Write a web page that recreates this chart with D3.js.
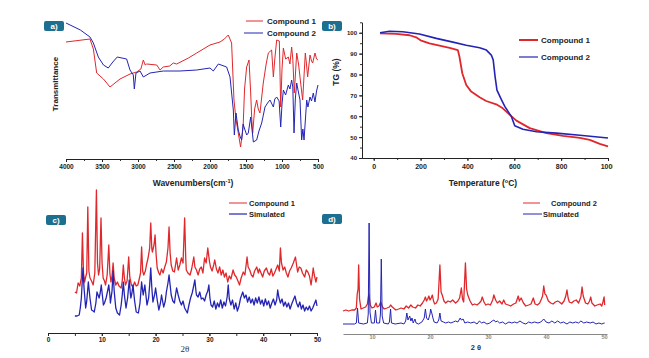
<!DOCTYPE html>
<html>
<head>
<meta charset="utf-8">
<script src="https://cdn.jsdelivr.net/npm/d3@7"></script>
<style>
  body { margin: 0; background: #fff; }
  svg { display: block; font-family: 'Liberation Sans', Arial, sans-serif; }
</style>
</head>
<body>
<div id="chart"></div>
<script>
// ---- a) FTIR, [wavenumber, transmittance (a.u.)]
const irCompound1 = [[4000,117],[3667,120],[3620,110],[3574,86],[3480,80],[3389,72],[3250,80],[3111,85],[3018,87],[2960,90],[2926,99],[2900,94],[2880,95],[2740,94],[2694,89],[2650,92],[2560,93],[2510,96],[2463,95],[2300,101],[2185,106],[2000,114],[1861,117],[1800,120],[1746,124],[1700,116],[1667,59],[1640,40],[1607,26],[1575,12],[1540,32],[1520,70],[1491,92],[1458,99],[1435,66],[1420,40],[1407,26],[1380,50],[1352,59],[1330,50],[1306,46],[1260,76],[1220,95],[1190,106],[1144,109],[1120,82],[1100,100],[1074,119],[1037,118],[1018,52],[1000,90],[981,111],[950,100],[912,102],[890,95],[866,112],[850,100],[829,66],[796,106],[770,95],[741,76],[713,59],[676,106],[660,95],[644,82],[611,104],[590,98],[574,96],[542,106],[520,100],[500,99]];
const irCompound2 = [[4000,136],[3800,129],[3667,122],[3620,116],[3551,102],[3480,94],[3413,91],[3350,97],[3288,102],[3158,100],[3111,89],[3065,84],[3051,70],[3028,86],[2972,88],[2926,82],[2833,86],[2648,88],[2417,88],[2185,89],[2000,91],[1954,88],[1884,95],[1769,92],[1722,82],[1676,49],[1662,24],[1639,46],[1607,29],[1580,22],[1560,19],[1540,35],[1514,29],[1490,24],[1468,26],[1435,42],[1398,17],[1352,19],[1320,28],[1282,36],[1236,52],[1200,56],[1167,59],[1120,52],[1100,60],[1074,62],[1040,58],[1018,32],[1000,55],[981,69],[950,64],[912,74],[890,70],[866,79],[850,72],[833,26],[815,60],[796,76],[775,68],[750,59],[727,19],[710,30],[694,19],[657,59],[640,52],[611,62],[590,58],[565,66],[542,57],[520,68],[500,74]];
const irTicks = [4000, 3500, 3000, 2500, 2000, 1500, 1000, 500];

// ---- b) TGA, [temperature °C, mass %]
const tgCompound1 = [[27,99.7],[96,99.5],[153,98.8],[181,97.8],[203,96.2],[238,94.9],[281,93.8],[324,92.8],[359,91.7],[366,88.5],[378,80.6],[395,75],[416,71.8],[452,69.1],[480,67.3],[523,65.7],[551,63.8],[580,60.8],[609,57.9],[666,54.3],[737,51.9],[808,50.6],[880,49.6],[922,48.7],[965,46.8],[1000,45.6]];
const tgCompound2 = [[27,100],[67,100.7],[124,100.5],[195,99.4],[267,97.3],[338,95.5],[395,94],[452,92.8],[481,91.7],[502,89.3],[510,87],[518,79],[526,72.5],[545,68],[560,64.6],[588,59.8],[602,55.4],[637,53.8],[695,52.6],[780,51.9],[880,50.9],[1000,49.6]];
const tgXTicks = [0, 200, 400, 600, 800, 1000];
const tgYTicks = [40, 50, 60, 70, 80, 90, 100];

// ---- c) PXRD compound 1, [2θ, intensity (a.u.)]
const xrdCompound1 = [[5.0,41],[5.3,40],[5.6,50],[5.9,47],[6.2,55],[6.4,100],[6.6,60],[6.8,51],[7.0,56],[7.2,60],[7.4,126],[7.6,62],[7.8,55],[8.1,52],[8.4,48],[8.7,60],[9.0,143],[9.2,70],[9.4,58],[9.6,64],[9.85,115],[10.05,70],[10.25,55],[10.5,52],[10.7,48],[11.0,58],[11.3,88],[11.5,60],[11.7,51],[11.9,57],[12.1,70],[12.3,55],[12.6,48],[12.9,51],[13.2,47],[13.6,45],[13.8,52],[14.0,68],[14.2,55],[14.4,48],[14.7,52],[15.0,76],[15.2,56],[15.5,48],[15.8,46],[16.1,51],[16.4,47],[16.7,48],[17.0,55],[17.2,60],[17.4,86],[17.6,62],[17.8,58],[18.1,62],[18.3,68],[18.6,75],[18.9,85],[19.1,110],[19.3,84],[19.4,81],[19.7,88],[19.9,98],[20.1,78],[20.3,65],[20.6,60],[20.8,58],[21.1,64],[21.4,60],[21.7,66],[22.0,71],[22.3,85],[22.5,106],[22.7,80],[22.9,68],[23.2,62],[23.5,61],[23.7,68],[23.9,75],[24.2,63],[24.5,68],[24.8,75],[25.1,70],[25.4,115],[25.6,75],[25.7,63],[26.0,60],[26.4,58],[26.7,64],[27.1,76],[27.3,66],[27.6,63],[27.9,58],[28.2,64],[28.5,66],[28.8,60],[29.1,75],[29.4,70],[29.7,85],[30.0,72],[30.2,66],[30.5,62],[30.8,68],[31.0,73],[31.3,64],[31.6,60],[31.9,66],[32.2,58],[32.5,63],[32.8,56],[33.1,60],[33.4,51],[33.7,57],[34.0,54],[34.4,63],[34.7,58],[35.0,56],[35.3,52],[35.6,48],[35.9,55],[36.3,61],[36.6,58],[37.0,76],[37.2,66],[37.5,63],[37.8,58],[38.1,56],[38.4,62],[38.8,66],[39.1,60],[39.3,64],[39.6,60],[39.9,56],[40.2,62],[40.6,65],[40.9,60],[41.2,58],[41.5,64],[41.8,57],[42.1,60],[42.4,64],[42.7,68],[43.0,62],[43.2,85],[43.4,70],[43.7,63],[44.0,66],[44.3,60],[44.6,56],[44.9,62],[45.2,65],[45.6,70],[46.0,76],[46.2,68],[46.4,61],[46.7,66],[47.0,65],[47.3,60],[47.7,56],[48.0,63],[48.3,61],[48.6,57],[48.9,48],[49.1,56],[49.3,65],[49.5,58],[49.8,51],[50.0,56]];
const xrdSimulated1 = [[5.0,17],[5.4,17],[5.8,18],[6.0,25],[6.2,35],[6.5,65],[6.7,45],[7.0,25],[7.2,32],[7.5,51],[7.8,35],[8.1,23],[8.4,22],[8.6,21],[8.9,30],[9.1,41],[9.3,38],[9.5,35],[9.7,40],[9.9,48],[10.1,38],[10.3,28],[10.5,30],[10.8,35],[11.0,40],[11.3,48],[11.5,38],[11.6,30],[11.9,42],[12.1,62],[12.3,42],[12.6,25],[12.9,20],[13.3,18],[13.6,28],[13.8,38],[14.0,51],[14.2,38],[14.5,25],[14.8,35],[15.1,53],[15.3,40],[15.4,35],[15.6,40],[15.8,48],[16.1,32],[16.4,21],[16.8,20],[17.1,30],[17.4,51],[17.6,42],[17.7,38],[18.0,48],[18.2,38],[18.4,28],[18.7,35],[18.9,48],[19.1,65],[19.3,45],[19.5,31],[19.8,38],[20.0,45],[20.3,33],[20.6,23],[20.9,30],[21.1,38],[21.3,32],[21.5,26],[21.8,32],[22.0,41],[22.3,50],[22.5,58],[22.7,48],[22.9,38],[23.2,32],[23.5,30],[23.7,38],[23.9,45],[24.2,38],[24.5,32],[24.8,28],[25.1,32],[25.4,25],[25.7,22],[25.9,20],[26.2,28],[26.5,35],[26.8,40],[27.0,45],[27.3,53],[27.5,42],[27.6,38],[27.9,36],[28.2,41],[28.5,34],[28.8,35],[29.1,32],[29.4,38],[29.7,42],[29.9,48],[30.1,35],[30.3,28],[30.6,26],[30.9,32],[31.2,24],[31.5,30],[31.8,26],[32.1,33],[32.4,25],[32.7,31],[33.0,27],[33.3,36],[33.5,48],[33.7,34],[34.0,28],[34.3,33],[34.6,24],[34.9,30],[35.2,22],[35.5,27],[35.8,35],[36.0,38],[36.2,41],[36.5,35],[36.8,38],[37.1,31],[37.4,36],[37.7,30],[38.0,34],[38.3,28],[38.6,35],[38.9,30],[39.2,36],[39.5,29],[39.8,33],[40.1,27],[40.4,34],[40.7,28],[41.0,32],[41.3,25],[41.6,30],[41.9,34],[42.2,28],[42.5,33],[42.7,43],[42.9,36],[43.2,30],[43.5,34],[43.8,27],[44.1,31],[44.4,26],[44.7,30],[45.0,24],[45.3,29],[45.6,33],[45.9,37],[46.2,30],[46.5,26],[46.8,31],[47.1,24],[47.4,28],[47.7,22],[48.0,26],[48.3,23],[48.6,27],[48.9,22],[49.2,25],[49.5,29],[49.8,33],[50.0,27]];
const xrdCTicks = [0, 10, 20, 30, 40, 50];

// ---- d) PXRD compound 2
const xrdCompound2 = [[5.0,23],[5.5,24],[6.0,23],[6.5,24],[7.0,24],[7.3,26],[7.45,40],[7.6,45],[7.7,69],[7.85,35],[8.1,25],[8.5,26],[8.9,27],[9.2,30],[9.45,40],[9.7,29],[10.0,26],[10.4,27],[10.7,31],[10.9,27],[11.2,28],[11.5,32],[11.8,27],[12.1,25],[12.6,26],[13.0,27],[13.2,29],[13.5,27],[14.1,24],[14.6,25],[15.0,26],[15.5,25],[15.9,28],[16.3,26],[16.7,29],[17.0,27],[17.5,26],[17.9,29],[18.3,28],[18.7,31],[19.0,34],[19.2,37],[19.4,33],[19.6,35],[19.8,38],[20.0,34],[20.2,36],[20.4,39],[20.6,33],[20.8,30],[21.1,31],[21.4,35],[21.7,69],[21.9,42],[22.1,39],[22.4,33],[22.7,31],[23.1,33],[23.5,32],[23.9,34],[24.4,31],[24.8,33],[25.1,36],[25.4,46],[25.6,35],[25.8,32],[26.1,71],[26.3,45],[26.5,39],[26.9,33],[27.3,29],[27.7,30],[28.1,29],[28.5,31],[28.8,33],[29.0,37],[29.3,32],[29.6,29],[30.0,30],[30.4,29],[30.8,34],[31.0,39],[31.3,34],[31.6,31],[32.0,33],[32.4,30],[32.7,34],[33.0,30],[33.5,29],[33.9,28],[34.4,30],[34.8,31],[35.2,38],[35.4,33],[35.7,36],[36.1,31],[36.5,28],[37.0,29],[37.4,30],[37.8,36],[38.1,30],[38.5,29],[38.9,31],[39.2,35],[39.4,38],[39.6,48],[39.8,40],[40.0,39],[40.4,33],[40.8,31],[41.2,30],[41.6,32],[42.0,33],[42.3,32],[42.7,30],[43.1,33],[43.4,38],[43.6,44],[43.8,36],[44.0,32],[44.4,31],[44.8,33],[45.2,34],[45.6,31],[46.0,37],[46.2,47],[46.4,38],[46.8,31],[47.2,30],[47.5,33],[47.7,37],[47.9,31],[48.4,28],[48.8,29],[49.3,30],[49.6,28],[49.8,32],[50.0,37],[50.1,29]];
const xrdSimulated2 = [[5.0,10],[6.0,10],[7.0,10],[7.3,11],[7.5,26],[7.7,11],[8.5,10],[9.2,11],[9.35,20],[9.5,111],[9.65,22],[9.9,11],[10.4,11],[10.6,24],[10.8,11],[11.3,11],[11.45,20],[11.6,75],[11.75,18],[12.0,11],[12.8,10],[13.0,12],[13.2,25],[13.35,11],[14.0,10],[15.0,11],[15.5,10],[15.8,13],[16.0,21],[16.2,14],[16.5,18],[16.7,13],[16.9,16],[17.1,11],[17.4,15],[17.6,11],[18.0,10],[18.6,12],[19.0,16],[19.2,25],[19.4,16],[19.7,14],[20.0,20],[20.1,25],[20.3,21],[20.5,16],[20.7,12],[21.2,11],[21.5,14],[21.7,21],[21.9,13],[22.3,12],[22.7,11],[23.2,12],[23.6,11],[24.0,12],[24.4,13],[24.8,12],[25.2,16],[25.4,14],[25.7,15],[26.0,11],[26.5,12],[27.0,11],[27.6,12],[28.1,10],[28.5,13],[28.9,11],[29.3,12],[29.8,10],[30.3,11],[30.7,13],[31.0,14],[31.3,12],[31.6,13],[32.0,11],[32.5,12],[33.0,10],[33.6,12],[34.1,11],[34.6,12],[35.0,11],[35.5,13],[36.0,11],[36.5,10],[37.0,12],[37.5,11],[38.0,12],[38.6,11],[39.1,12],[39.6,15],[40.0,12],[40.5,11],[41.0,13],[41.5,11],[42.0,13],[42.5,11],[43.0,12],[43.6,10],[44.1,12],[44.6,11],[45.1,12],[45.6,11],[46.0,13],[46.5,11],[47.0,12],[47.6,11],[48.1,12],[48.6,10],[49.1,11],[49.6,10],[50.0,11],[50.1,11]];
const xrdDTicks = [10, 20, 30, 40, 50];

const RED = '#e0282c', BLUE = '#2424b4', BADGE = '#1d6f90';

const svg = d3.select('#chart').append('svg')
  .attr('width', 649).attr('height', 358);
svg.append('rect').attr('width', 649).attr('height', 358).attr('fill', '#fff');

function badge(x, y, label) {
  svg.append('rect')
    .attr('x', x).attr('y', y).attr('width', 20).attr('height', 10)
    .attr('rx', 2).attr('fill', BADGE);
  svg.append('text')
    .attr('x', x + 10).attr('y', y + 7.8)
    .attr('text-anchor', 'middle')
    .attr('font-size', '8px').attr('font-weight', 'bold')
    .attr('fill', '#fff')
    .text(label);
}

function legendRow(x1, x2, tx, y, color, width, label, size) {
  svg.append('line')
    .attr('x1', x1).attr('x2', x2).attr('y1', y).attr('y2', y)
    .attr('stroke', color).attr('stroke-width', width);
  svg.append('text')
    .attr('x', tx).attr('y', y + 3)
    .attr('font-size', size).attr('font-weight', 'bold')
    .attr('fill', '#222')
    .text(label);
}

function styleAxis(g, size, color) {
  g.select('.domain').attr('stroke', color);
  g.selectAll('.tick line').attr('stroke', color);
  g.selectAll('text')
    .attr('font-family', "'Liberation Sans', Arial, sans-serif")
    .attr('font-size', size).attr('font-weight', 'bold')
    .attr('fill', color);
}

function drawLine(g, data, x, y, color, width) {
  g.append('path')
    .datum(data)
    .attr('fill', 'none')
    .attr('stroke', color)
    .attr('stroke-width', width)
    .attr('stroke-linejoin', 'round')
    .attr('d', d3.line().x(d => x(d[0])).y(d => y(d[1])));
}

// ================= a) FTIR =================
{
  const x = d3.scaleLinear().domain([4000, 500]).range([66, 318]);
  const y = d3.scaleLinear().domain([0, 140]).range([159, 19]);
  const g = svg.append('g');

  g.append('g')
    .attr('transform', 'translate(0,159)')
    .call(d3.axisBottom(x).tickValues(d3.range(4000, 499, -250)).tickSize(2).tickSizeOuter(0).tickFormat(''))
    .call(a => styleAxis(a, '6.5px', '#333'));
  g.append('g')
    .attr('transform', 'translate(0,159)')
    .call(d3.axisBottom(x).tickValues(irTicks).tickSize(3).tickPadding(2).tickSizeOuter(0).tickFormat(d3.format('d')))
    .call(a => styleAxis(a, '6.5px', '#222'));

  drawLine(g, irCompound1, x, y, RED, 1);
  drawLine(g, irCompound2, x, y, BLUE, 1);

  g.append('text')
    .attr('transform', 'translate(58,84) rotate(-90)')
    .attr('text-anchor', 'middle')
    .attr('font-size', '8px').attr('font-weight', 'bold').attr('fill', '#222')
    .text('Transmittance');
  const xl = g.append('text')
    .attr('x', 193).attr('y', 186)
    .attr('text-anchor', 'middle')
    .attr('font-size', '8.5px').attr('font-weight', 'bold').attr('fill', '#222');
  xl.append('tspan').text('Wavenumbers(cm');
  xl.append('tspan').attr('dy', -3).attr('font-size', '5.5px').text('-1');
  xl.append('tspan').attr('dy', 3).text(')');

  badge(44, 21, 'a)');
  legendRow(246, 263, 267, 21, RED, 1, 'Compound 1', '8px');
  legendRow(244, 263, 267, 33, BLUE, 1, 'Compound 2', '8px');
}

// ================= b) TGA =================
{
  svg.append('clipPath').attr('id', 'clipB')
    .append('rect').attr('x', 330).attr('y', 0).attr('width', 283).attr('height', 200);
  const x = d3.scaleLinear().domain([-50, 1000]).range([362, 608]);
  const y = d3.scaleLinear().domain([40, 105]).range([158, 22.3]);
  const g = svg.append('g').attr('clip-path', 'url(#clipB)');

  g.append('g')
    .attr('transform', 'translate(0,158)')
    .call(d3.axisBottom(x).tickValues(d3.range(0, 1001, 100)).tickSize(2).tickSizeOuter(0).tickFormat(''))
    .call(a => styleAxis(a, '7px', '#333'));
  g.append('g')
    .attr('transform', 'translate(0,158)')
    .call(d3.axisBottom(x).tickValues(tgXTicks).tickSize(3).tickPadding(3).tickSizeOuter(0).tickFormat(d3.format('d')))
    .call(a => styleAxis(a, '7px', '#222'));
  g.append('g')
    .attr('transform', 'translate(362,0)')
    .call(d3.axisLeft(y).tickValues(d3.range(40, 106, 5)).tickSize(2).tickSizeOuter(0).tickFormat(''))
    .call(a => styleAxis(a, '6px', '#333'));
  g.append('g')
    .attr('transform', 'translate(362,0)')
    .call(d3.axisLeft(y).tickValues(tgYTicks).tickSize(3).tickPadding(2).tickSizeOuter(0))
    .call(a => styleAxis(a, '6px', '#222'));

  drawLine(g, tgCompound1, x, y, RED, 1.8);
  drawLine(g, tgCompound2, x, y, BLUE, 1.6);

  g.append('text')
    .attr('transform', 'translate(339,72) rotate(-90)')
    .attr('text-anchor', 'middle')
    .attr('font-size', '8.5px').attr('font-weight', 'bold').attr('fill', '#222')
    .text('TG (%)');
  const xl = g.append('text')
    .attr('x', 483).attr('y', 186)
    .attr('text-anchor', 'middle')
    .attr('font-size', '8.5px').attr('font-weight', 'bold').attr('fill', '#222');
  xl.append('tspan').text('Temperature (');
  xl.append('tspan').attr('dy', -3).attr('font-size', '5.5px').text('o');
  xl.append('tspan').attr('dy', 3).text('C)');

  badge(322, 21, 'b)');
  legendRow(519, 538, 541, 40, RED, 2, 'Compound 1', '8px');
  legendRow(519, 538, 541, 57, BLUE, 1.2, 'Compound 2', '8px');
}

// ================= c) PXRD compound 1 =================
{
  const x = d3.scaleLinear().domain([0, 50]).range([48, 317]);
  const y = d3.scaleLinear().domain([0, 150]).range([333, 183]);
  const g = svg.append('g');

  g.append('g')
    .attr('transform', 'translate(0,333)')
    .call(d3.axisBottom(x).tickValues(d3.range(0, 51, 5)).tickSize(3).tickSizeOuter(0).tickFormat(''))
    .call(a => styleAxis(a, '7px', '#333'));
  g.append('g')
    .attr('transform', 'translate(0,333)')
    .call(d3.axisBottom(x).tickValues(xrdCTicks).tickSize(3).tickPadding(1).tickSizeOuter(0))
    .call(a => styleAxis(a, '6.5px', '#222'));

  drawLine(g, xrdCompound1, x, y, RED, 1.3);
  drawLine(g, xrdSimulated1, x, y, BLUE, 1.3);

  g.append('text')
    .attr('x', 185).attr('y', 352)
    .attr('text-anchor', 'middle')
    .attr('font-family', "'Liberation Serif', serif")
    .attr('font-size', '9px').attr('fill', '#333')
    .text('2θ');

  badge(46, 215, 'c)');
  legendRow(229, 247, 249, 203, RED, 1, 'Compound 1', '7.5px');
  legendRow(229, 247, 249, 214, BLUE, 1.2, 'Simulated', '7.5px');
}

// ================= d) PXRD compound 2 =================
{
  const x = d3.scaleLinear().domain([5, 50.5]).range([343, 607]);
  const y = d3.scaleLinear().domain([0, 130]).range([334, 204]);
  const g = svg.append('g');

  g.append('g')
    .attr('transform', 'translate(0,334)')
    .call(d3.axisBottom(x).tickValues(xrdDTicks).tickSize(0).tickPadding(1).tickSizeOuter(0))
    .call(a => styleAxis(a, '5.5px', '#888'));

  drawLine(g, xrdCompound2, x, y, RED, 1.3);
  drawLine(g, xrdSimulated2, x, y, BLUE, 1);

  g.append('text')
    .attr('x', 476).attr('y', 350)
    .attr('text-anchor', 'middle')
    .attr('font-size', '7.5px').attr('font-weight', 'bold').attr('fill', '#333')
    .text('2 θ');

  badge(322, 214, 'd)');
  legendRow(523, 540, 551, 203, RED, 1, 'Compound 2', '7.5px');
  legendRow(523, 542, 543, 214, BLUE, 1, 'Simulated', '7.5px');
}
</script>
</body>
</html>
